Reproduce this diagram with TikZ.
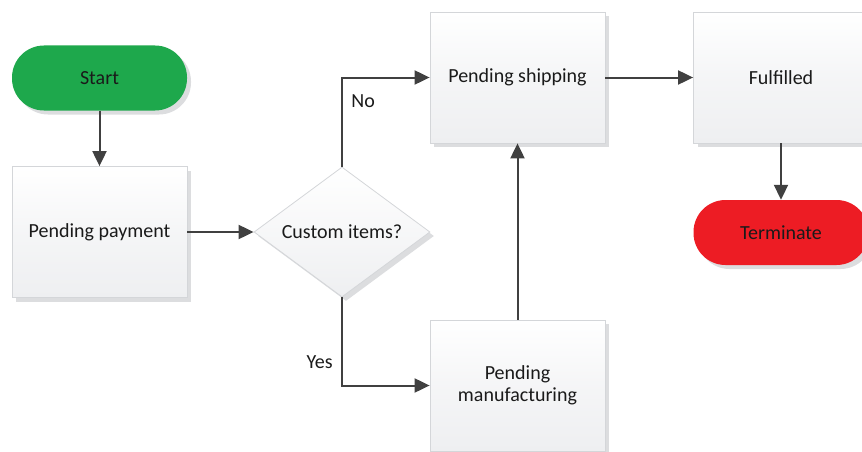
\documentclass[tikz,border=0pt]{standalone}
\usepackage{fontspec}
\setmainfont{Carlito}
\usetikzlibrary{arrows.meta, shapes.geometric, shadows}
\definecolor{ink}{HTML}{1A1A1A}
\definecolor{lineG}{HTML}{404040}
\definecolor{edgeG}{HTML}{D4D6D9}
\definecolor{shadeG}{HTML}{EEEFF1}
\definecolor{shadowG}{HTML}{DCDDDF}
\definecolor{startG}{HTML}{1EA84C}
\definecolor{stopR}{HTML}{ED1C24}
\tikzset{
  label/.style={font=\fontsize{20}{23}\selectfont, text=ink},
  shade/.style={drop shadow={shadow xshift=4pt, shadow yshift=-4pt, fill=shadowG, opacity=1}},
  state/.style={label, shade, draw=edgeG, line width=0.8pt, top color=white, bottom color=shadeG, middle color=shadeG!60,
    minimum width=175pt, minimum height=131pt, align=center, inner sep=0pt},
  decision/.style={label, shade, diamond, draw=edgeG, line width=0.8pt, top color=white, bottom color=shadeG,
    minimum width=176pt, minimum height=130pt, inner sep=0pt, aspect=1.35},
  pill/.style={label, shade, rounded corners=32pt, minimum width=175pt, minimum height=65pt, inner sep=0pt},
  flow/.style={-{Triangle[length=15pt,width=14pt]}, line width=2pt, draw=lineG}
}

\begin{document}
\begin{tikzpicture}[x=1pt,y=1pt]
\useasboundingbox (0,0) rectangle (862,451);

\node[pill, fill=startG] (start) at (99.5,373) {Start};
\node[state] (pay) at (99.5,219) {Pending payment};
\node[decision] (custom) at (342,219) {Custom items?};
\node[state] (ship) at (517.5,373.5) {Pending shipping};
\node[state] (manuf) at (517.5,65.5) {Pending\\[-1pt]manufacturing};
\node[state] (done) at (781,373.5) {Fulfilled};
\node[pill, fill=stopR] (term) at (781,218.5) {Terminate};

\draw[flow] (start) -- (pay);
\draw[flow] (pay) -- (custom);
\draw[flow] (custom.north) |- node[label, pos=0.37, right=5pt] {No} (ship.west);
\draw[flow] (custom.south) |- node[label, pos=0.37, left=5pt] {Yes} (manuf.west);
\draw[flow] (manuf) -- (ship);
\draw[flow] (ship) -- (done);
\draw[flow] (done) -- (term);

\end{tikzpicture}
\end{document}
